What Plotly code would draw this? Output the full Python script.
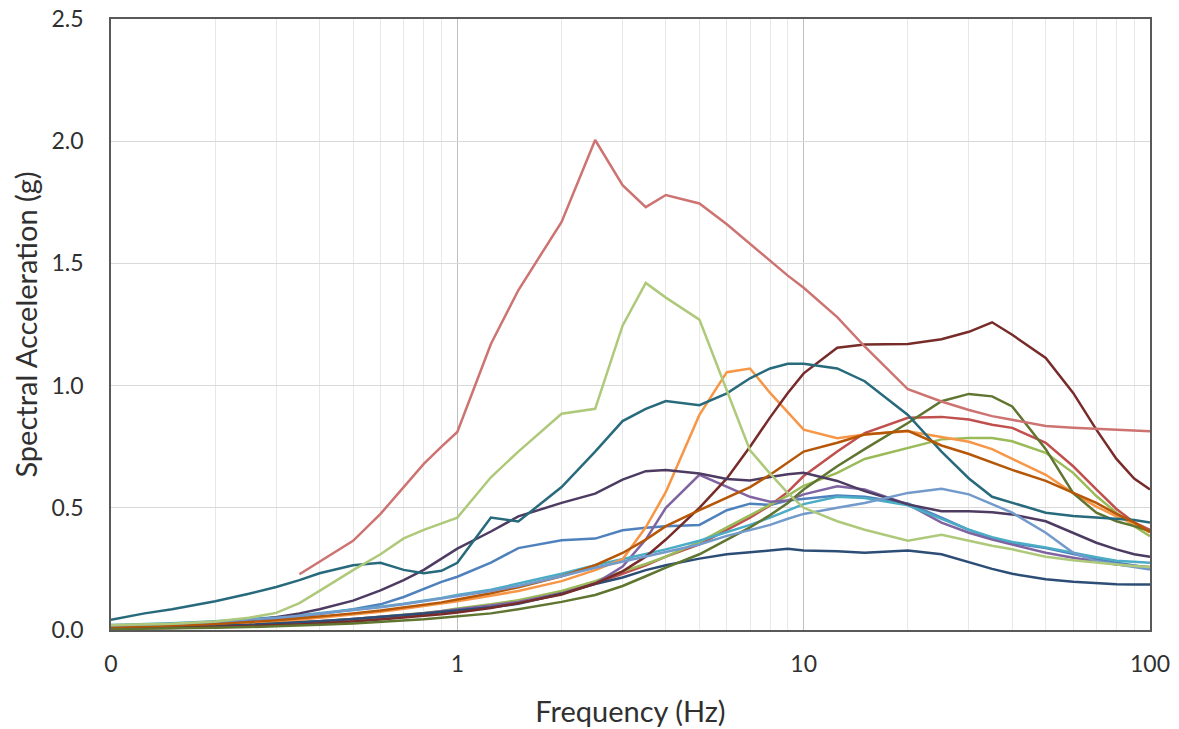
import plotly.graph_objects as go

freq = [0.1, 0.125, 0.15, 0.2, 0.25, 0.3, 0.35, 0.4, 0.5, 0.6, 0.7, 0.8, 0.9, 1, 1.25, 1.5, 2, 2.5, 3, 3.5,
        4, 5, 6, 7, 8, 9, 10, 12.5, 15, 20, 25, 30, 35, 40, 50, 60, 70, 80, 90, 100]

s_blue = [0.015, 0.018, 0.022, 0.030, 0.038, 0.046, 0.055, 0.065, 0.085, 0.105,
          0.135, 0.168, 0.197, 0.218, 0.276, 0.335, 0.367, 0.374, 0.408, 0.418,
          0.425, 0.430, 0.490, 0.517, 0.512, 0.530, 0.537, 0.550, 0.545, 0.518,
          0.460, 0.410, 0.375, 0.355, 0.335, 0.310, 0.290, 0.275, 0.265, 0.255]
s_red = [0.006, 0.008, 0.010, 0.014, 0.018, 0.022, 0.027, 0.031, 0.040, 0.048,
         0.056, 0.064, 0.072, 0.080, 0.100, 0.120, 0.155, 0.190, 0.230, 0.265,
         0.300, 0.350, 0.410, 0.460, 0.510, 0.565, 0.630, 0.730, 0.806, 0.868,
         0.872, 0.861, 0.840, 0.827, 0.766, 0.670, 0.575, 0.495, 0.440, 0.410]
s_green = [0.008, 0.010, 0.012, 0.016, 0.021, 0.026, 0.031, 0.036, 0.045, 0.054,
           0.062, 0.070, 0.078, 0.088, 0.105, 0.122, 0.160, 0.200, 0.240, 0.270,
           0.300, 0.360, 0.420, 0.470, 0.510, 0.550, 0.590, 0.643, 0.700, 0.745,
           0.780, 0.786, 0.786, 0.772, 0.725, 0.643, 0.548, 0.480, 0.425, 0.384]
s_purple = [0.008, 0.010, 0.012, 0.016, 0.021, 0.026, 0.031, 0.036, 0.045, 0.053,
            0.061, 0.069, 0.077, 0.085, 0.100, 0.115, 0.150, 0.190, 0.260, 0.370,
            0.500, 0.635, 0.585, 0.545, 0.525, 0.530, 0.555, 0.588, 0.575, 0.514,
            0.439, 0.398, 0.370, 0.350, 0.316, 0.296, 0.282, 0.268, 0.262, 0.258]
s_aqua = [0.020, 0.024, 0.028, 0.036, 0.044, 0.052, 0.060, 0.068, 0.082, 0.095,
          0.107, 0.119, 0.131, 0.143, 0.165, 0.190, 0.230, 0.265, 0.290, 0.310,
          0.330, 0.365, 0.400, 0.430, 0.460, 0.490, 0.515, 0.545, 0.540, 0.510,
          0.455, 0.410, 0.380, 0.360, 0.338, 0.318, 0.298, 0.283, 0.278, 0.275]
s_orange = [0.010, 0.012, 0.015, 0.020, 0.027, 0.035, 0.042, 0.050, 0.063, 0.075,
            0.087, 0.098, 0.108, 0.118, 0.140, 0.160, 0.200, 0.245, 0.290, 0.420,
            0.565, 0.880, 1.055, 1.070, 0.970, 0.890, 0.820, 0.785, 0.800, 0.813,
            0.790, 0.770, 0.740, 0.700, 0.635, 0.560, 0.505, 0.465, 0.435, 0.400]
s_dkblue = [0.008, 0.010, 0.012, 0.017, 0.021, 0.026, 0.031, 0.036, 0.045, 0.053,
            0.061, 0.068, 0.074, 0.080, 0.093, 0.107, 0.148, 0.188, 0.215, 0.245,
            0.265, 0.292, 0.310, 0.318, 0.325, 0.332, 0.325, 0.322, 0.316, 0.325,
            0.310, 0.277, 0.250, 0.230, 0.208, 0.197, 0.190, 0.187, 0.186, 0.186]
s_dkred = [0.005, 0.006, 0.008, 0.012, 0.015, 0.019, 0.023, 0.027, 0.035, 0.043,
           0.050, 0.057, 0.064, 0.072, 0.090, 0.110, 0.145, 0.190, 0.240, 0.300,
           0.370, 0.500, 0.620, 0.750, 0.870, 0.970, 1.050, 1.155, 1.168, 1.170,
           1.190, 1.220, 1.259, 1.208, 1.113, 0.970, 0.820, 0.700, 0.620, 0.575]
s_dkgreen = [0.004, 0.005, 0.006, 0.009, 0.012, 0.015, 0.018, 0.021, 0.027, 0.033,
             0.039, 0.044, 0.050, 0.055, 0.068, 0.085, 0.115, 0.143, 0.180, 0.220,
             0.255, 0.310, 0.370, 0.420, 0.470, 0.520, 0.575, 0.670, 0.740, 0.847,
             0.936, 0.966, 0.956, 0.915, 0.740, 0.560, 0.480, 0.445, 0.425, 0.405]
s_dkpurple = [0.015, 0.018, 0.022, 0.030, 0.040, 0.052, 0.068, 0.085, 0.120, 0.162,
              0.204, 0.246, 0.292, 0.333, 0.403, 0.465, 0.520, 0.558, 0.615, 0.650,
              0.655, 0.640, 0.618, 0.612, 0.626, 0.637, 0.643, 0.610, 0.568, 0.514,
              0.486, 0.486, 0.482, 0.473, 0.445, 0.398, 0.357, 0.330, 0.310, 0.300]
s_dkteal = [0.042, 0.068, 0.085, 0.118, 0.148, 0.176, 0.204, 0.232, 0.265, 0.275,
            0.246, 0.232, 0.242, 0.275, 0.460, 0.444, 0.585, 0.730, 0.855, 0.905,
            0.937, 0.920, 0.968, 1.030, 1.070, 1.089, 1.089, 1.070, 1.018, 0.880,
            0.730, 0.620, 0.545, 0.520, 0.480, 0.466, 0.460, 0.455, 0.450, 0.440]
s_dkorange = [0.012, 0.015, 0.018, 0.025, 0.032, 0.040, 0.048, 0.055, 0.068, 0.080,
              0.092, 0.103, 0.113, 0.125, 0.150, 0.175, 0.220, 0.265, 0.315, 0.370,
              0.425, 0.490, 0.540, 0.585, 0.635, 0.685, 0.730, 0.766, 0.800, 0.815,
              0.755, 0.720, 0.685, 0.655, 0.610, 0.560, 0.520, 0.475, 0.440, 0.400]
s_ltblue = [0.018, 0.022, 0.026, 0.034, 0.042, 0.050, 0.058, 0.066, 0.080, 0.093,
            0.105, 0.117, 0.129, 0.140, 0.160, 0.180, 0.220, 0.255, 0.280, 0.300,
            0.320, 0.350, 0.385, 0.410, 0.430, 0.455, 0.475, 0.500, 0.520, 0.561,
            0.578, 0.555, 0.514, 0.480, 0.398, 0.316, 0.282, 0.268, 0.258, 0.248]
s_ltred = [None, None, None, None, None, None, 0.228, 0.280, 0.365, 0.475,
           0.585, 0.680, 0.750, 0.810, 1.170, 1.390, 1.670, 2.005, 1.820, 1.730,
           1.780, 1.745, 1.660, 1.580, 1.510, 1.450, 1.400, 1.280, 1.160, 0.985,
           0.935, 0.900, 0.875, 0.860, 0.835, 0.828, 0.824, 0.820, 0.816, 0.813]
s_ltgreen = [0.020, 0.022, 0.026, 0.035, 0.050, 0.070, 0.110, 0.160, 0.245, 0.310,
             0.375, 0.410, 0.435, 0.460, 0.625, 0.730, 0.885, 0.905, 1.245, 1.420,
             1.360, 1.270, 0.980, 0.735, 0.640, 0.560, 0.500, 0.445, 0.410, 0.365,
             0.390, 0.365, 0.345, 0.330, 0.300, 0.285, 0.275, 0.268, 0.262, 0.258]

series = [
    ("Series 1", s_blue, "#4F81BD"),
    ("Series 2", s_red, "#C0504D"),
    ("Series 3", s_green, "#9BBB59"),
    ("Series 4", s_purple, "#8064A2"),
    ("Series 5", s_aqua, "#4BACC6"),
    ("Series 6", s_orange, "#F79646"),
    ("Series 7", s_dkblue, "#2C4D75"),
    ("Series 8", s_dkred, "#772C2A"),
    ("Series 9", s_dkgreen, "#5F7530"),
    ("Series 10", s_dkpurple, "#4D3B62"),
    ("Series 11", s_dkteal, "#276A7C"),
    ("Series 12", s_dkorange, "#B65708"),
    ("Series 13", s_ltblue, "#729ACA"),
    ("Series 14", s_ltred, "#CD7371"),
    ("Series 15", s_ltgreen, "#AFC97A"),
]

x_tickvals = [0.1, 1, 10, 100]
x_ticktext = ["0", "1", "10", "100"]
y_tickvals = [0, 0.5, 1.0, 1.5, 2.0, 2.5]
minor_vals = [m * d for d in (0.1, 1, 10) for m in range(2, 10)]

fig = go.Figure()
for name, vals, color in series:
    fig.add_trace(go.Scatter(x=freq, y=vals, mode="lines", name=name,
                             line=dict(color=color, width=2.5)))

font_family = "Lato, 'Open Sans', sans-serif"
fig.update_layout(
    width=1179, height=729,
    margin=dict(l=111, r=29, t=19, b=99, autoexpand=False),
    paper_bgcolor="white", plot_bgcolor="white",
    showlegend=False,
    font=dict(family=font_family, size=23, color="#303030"),
)
fig.update_xaxes(
    type="log", range=[-1, 2], automargin=False,
    tickmode="array", tickvals=x_tickvals, ticktext=x_ticktext,
    ticklabeloverflow="allow",
    showgrid=True, gridcolor="#BFBFBF", gridwidth=1,
    minor=dict(tickvals=minor_vals, showgrid=True, gridcolor="#E8E8E8", gridwidth=1, ticks=""),
    showline=True, linecolor="#595959", linewidth=1.5, mirror=True,
    ticks="outside", ticklen=13, tickcolor="rgba(0,0,0,0)",
    tickfont=dict(size=23),
    title=dict(text="Frequency (Hz)", font=dict(size=29), standoff=25),
    zeroline=False,
)
fig.update_yaxes(
    range=[0, 2.5], automargin=False,
    tickmode="array", tickvals=y_tickvals, tickformat=".1f",
    ticklabeloverflow="allow",
    showgrid=True, gridcolor="#D9D9D9", gridwidth=1,
    showline=True, linecolor="#595959", linewidth=1.5, mirror=True,
    ticks="outside", ticklen=21, tickcolor="rgba(0,0,0,0)",
    tickfont=dict(size=23),
    title=dict(text="Spectral Acceleration (g)", font=dict(size=29), standoff=5),
    zeroline=False,
)

# remove the browser's default 8 px body margin so the figure fills the window exactly
fig.write_html("out.html", config={"displayModeBar": False},
               post_script="document.body.style.margin='0';")
